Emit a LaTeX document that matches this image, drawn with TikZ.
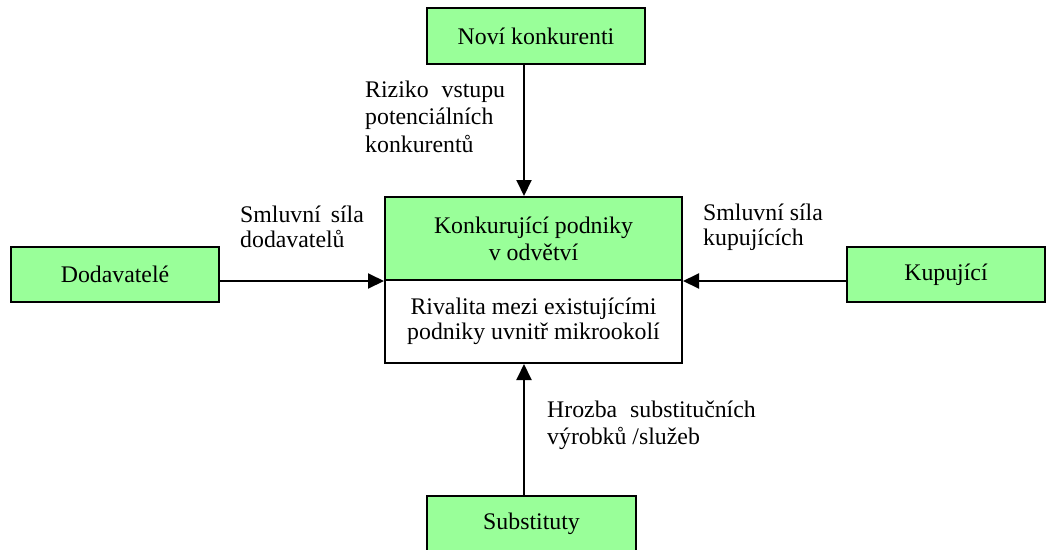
\documentclass[tikz,border=0pt]{standalone}
\usepackage{fontspec}
\setmainfont{Liberation Serif}
\usetikzlibrary{arrows.meta}
\definecolor{boxgreen}{HTML}{99FF99}
\tikzset{
  gbox/.style={draw=black, line width=2pt, fill=boxgreen, inner sep=0pt, align=center,
    font=\fontsize{23.8}{27}\selectfont},
  wbox/.style={draw=black, line width=2pt, fill=white, inner sep=0pt, align=center,
    font=\fontsize{23.8}{25}\selectfont},
  lbl/.style={inner sep=0pt, align=left, anchor=base west},
  arr/.style={line width=2pt, -{Triangle[length=16pt,width=15pt]}}
}
\begin{document}
\begin{tikzpicture}[x=1pt,y=-1pt]
\useasboundingbox (0,0) rectangle (1047,549);
% boxes
\node[gbox, minimum width=218pt, minimum height=56pt] (nov) at (536,36) {Noví konkurenti};
\node[gbox, minimum width=208pt, minimum height=55pt] (dod) at (115,274.5) {Dodavatelé};
\node[gbox, minimum width=198pt, minimum height=55pt] (kup) at (946,274.5) {Kupující};
\node[gbox, minimum width=209pt, minimum height=56pt] (sub) at (531.5,524) {Substituty};
\node[gbox, minimum width=297pt, minimum height=83pt] (top) at (533.5,238.5) {Konkurující podniky\\v odvětví};
\node[wbox, minimum width=297pt, minimum height=83pt] (bot) at (533.5,321.5) {Rivalita mezi existujícími\\podniky uvnitř mikrookolí};
% arrow axis
\coordinate (ax) at (524,0);
% connectors
\draw[arr] (nov.south -| ax) -- (top.north -| ax);
\draw[arr] (sub.north -| ax) -- (bot.south -| ax);
\draw[arr] (dod.east |- top.south) -- (top.south west);
\draw[arr] (kup.west |- top.south) -- (top.south east);
% labels (anchored at the baseline of their last line)
\node[lbl, font=\fontsize{23.8}{27.5}\selectfont] (l1) at (365,152) {Riziko\hspace{7pt} vstupu\\potenciálních\\konkurentů};
\node[lbl, font=\fontsize{23.8}{25}\selectfont] (l2) at (240,247) {Smluvní\hspace{4pt} síla\\dodavatelů};
\node[lbl, font=\fontsize{23.8}{25}\selectfont] (l3) at (703,245) {Smluvní síla\\kupujících};
\node[lbl, font=\fontsize{23.8}{27}\selectfont] (l4) at (547,444) {Hrozba\hspace{7pt} substitučních\\výrobků /služeb};
\end{tikzpicture}
\end{document}
